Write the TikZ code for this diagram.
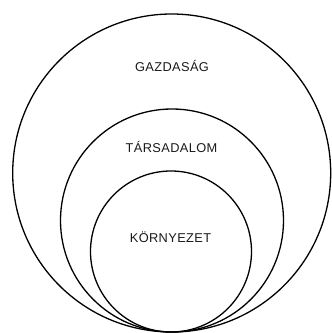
\documentclass[tikz,border=0pt]{standalone}
\usepackage{fontspec}
\setmainfont{Liberation Sans}[LetterSpace=3]
\begin{document}
\begin{tikzpicture}[x=1pt,y=1pt,
  ring/.style={circle, draw=black, line width=1.3pt, inner sep=0pt},
  lbl/.style={font=\fontsize{12.8}{14}\selectfont, text=black!90}]
\useasboundingbox (0,0) rectangle (332,333);
\node[ring, minimum size=318pt] (outer) at (171.7,160) {};
\node[ring, minimum size=223pt] (middle) at (172,112.5) {};
\node[ring, minimum size=161pt] (inner) at (171,81.5) {};
\node[lbl] (g) at (172,267) {GAZDASÁG};
\node[lbl] (t) at (171.5,186) {TÁRSADALOM};
\node[lbl] (k) at (170.5,96) {KÖRNYEZET};
\end{tikzpicture}
\end{document}
